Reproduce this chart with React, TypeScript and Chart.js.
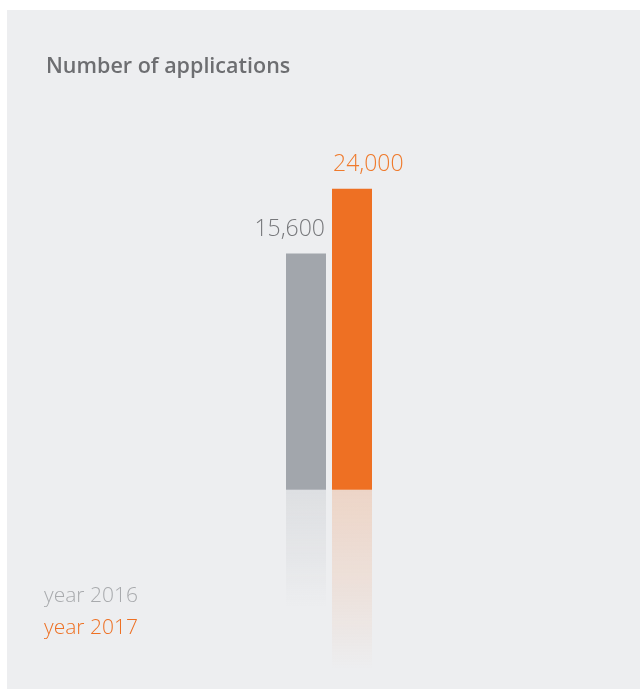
import React, { useEffect, useRef } from "react";
import { Chart, registerables } from "chart.js";

Chart.register(...registerables);

// ---- data ----
const categories = ["Number of applications"];
const seriesLabels = ["year 2016", "year 2017"];
const values2016 = [15600];
const values2017 = [24000];

// ---- scale settings (data units) ----
const BAR_FLOOR = -15000;
const Y_MIN = -40800;
const Y_MAX = 34200;
const REFLECT_RATIO = 0.97;

// ---- styles ----
const FONT = "'Open Sans', 'Noto Sans', sans-serif";
const BG = "#edeef0";
const barColors = ["#a2a6ac", "#ee7023"];
const barRGB = [
  [162, 166, 172],
  [238, 112, 35],
];
const valueLabelColors = ["#77787b", "#ef7a2c"];
const legendColors = ["#a8aaad", "#ee7023"];

const seriesValues = [values2016, values2017];

const reflectionPlugin = {
  id: "reflection",
  beforeDatasetsDraw(chart: any) {
    const ctx = chart.ctx;
    const yScale = chart.scales.y;
    chart.data.datasets.forEach((_ds: any, i: number) => {
      const meta = chart.getDatasetMeta(i);
      meta.data.forEach((bar: any, j: number) => {
        const { x, width, base } = bar.getProps(["x", "width", "base"], true);
        const v = seriesValues[i][j];
        const len = (yScale.getPixelForValue(0) - yScale.getPixelForValue(v)) * REFLECT_RATIO;
        const [r, g, b] = barRGB[i];
        const grad = ctx.createLinearGradient(0, base, 0, base + len);
        grad.addColorStop(0, `rgba(${r},${g},${b},0.2)`);
        grad.addColorStop(0.6, `rgba(${r},${g},${b},0.09)`);
        grad.addColorStop(1, `rgba(${r},${g},${b},0)`);
        ctx.save();
        ctx.fillStyle = grad;
        ctx.fillRect(x - width / 2, base, width, len);
        ctx.restore();
      });
    });
  },
};

const valueLabelPlugin = {
  id: "valueLabels",
  afterDatasetsDraw(chart: any) {
    const ctx = chart.ctx;
    chart.data.datasets.forEach((_ds: any, i: number) => {
      const meta = chart.getDatasetMeta(i);
      meta.data.forEach((bar: any, j: number) => {
        const { x, y, width } = bar.getProps(["x", "y", "width"], true);
        const v = seriesValues[i][j];
        ctx.save();
        ctx.font = `300 23px ${FONT}`;
        ctx.fillStyle = valueLabelColors[i];
        ctx.textBaseline = "alphabetic";
        if (i === 0) {
          ctx.textAlign = "right";
          ctx.fillText(v.toLocaleString("en-US"), x + width / 2 - 1, y - 18);
        } else {
          ctx.textAlign = "left";
          ctx.fillText(v.toLocaleString("en-US"), x - width / 2 + 1, y - 18);
        }
        ctx.restore();
      });
    });
  },
};

const legendPlugin = {
  id: "textLegend",
  afterDraw(chart: any) {
    const ctx = chart.ctx;
    const left = chart.chartArea.left - 2;
    const baseY = chart.height - 87;
    chart.data.datasets.forEach((ds: any, i: number) => {
      ctx.save();
      ctx.font = `300 21px ${FONT}`;
      ctx.fillStyle = legendColors[i];
      ctx.textAlign = "left";
      ctx.textBaseline = "alphabetic";
      ctx.fillText(ds.label, left, baseY + i * 32);
      ctx.restore();
    });
  },
};

export default function App() {
  const ref = useRef<HTMLCanvasElement>(null);
  useEffect(() => {
    if (!ref.current) return;
    const chart = new Chart(ref.current, {
      type: "bar",
      data: {
        labels: categories,
        datasets: seriesLabels.map((label, i) => ({
          label,
          data: seriesValues[i],
          backgroundColor: barColors[i],
          borderWidth: 0,
          base: BAR_FLOOR,
          categoryPercentage: 92 / 566,
          barPercentage: 40 / 46,
        })) as any,
      },
      options: {
        animation: false,
        responsive: false,
        maintainAspectRatio: false,
        devicePixelRatio: 1,
        layout: { padding: { left: 39, right: 28, top: 0, bottom: 0 } },
        scales: {
          x: { display: false, grid: { display: false } },
          y: { display: false, min: Y_MIN, max: Y_MAX, grid: { display: false } },
        },
        plugins: {
          legend: { display: false },
          tooltip: { enabled: false },
          title: {
            display: true,
            text: "Number of applications",
            align: "start",
            color: "#6d6e71",
            font: { family: FONT, size: 21.5, weight: "600", lineHeight: 1.2 },
            padding: { top: 44, bottom: 30.2 },
          },
        },
      } as any,
      plugins: [reflectionPlugin, valueLabelPlugin, legendPlugin],
    });
    return () => chart.destroy();
  }, []);

  return (
    <div
      style={{
        position: "absolute",
        left: 7,
        top: 10,
        width: 633,
        height: 679,
        background: BG,
      }}
    >
      <canvas ref={ref} width={633} height={679} style={{ display: "block" }} />
    </div>
  );
}
